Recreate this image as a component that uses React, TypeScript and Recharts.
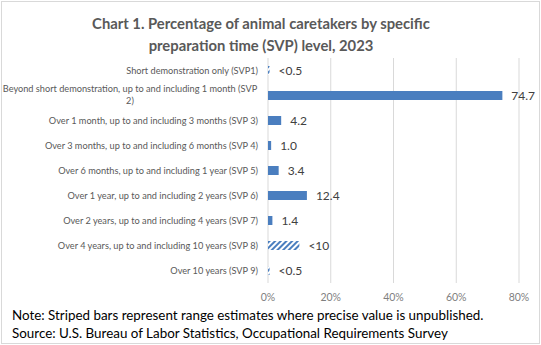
import React from "react";
import { BarChart, Bar, XAxis, YAxis, CartesianGrid, Cell, LabelList } from "recharts";

const categories = [
  "Short demonstration only (SVP1)",
  "Beyond short demonstration, up to and including 1 month (SVP 2)",
  "Over 1 month, up to and including 3 months (SVP 3)",
  "Over 3 months, up to and including 6 months (SVP 4)",
  "Over 6 months, up to and including 1 year (SVP 5)",
  "Over 1 year, up to and including 2 years (SVP 6)",
  "Over 2 years, up to and including 4 years (SVP 7)",
  "Over 4 years, up to and including 10 years (SVP 8)",
  "Over 10 years (SVP 9)",
];
const values = [0.5, 74.7, 4.2, 1.0, 3.4, 12.4, 1.4, 10, 0.5];
const valueLabels = ["<0.5", "74.7", "4.2", "1.0", "3.4", "12.4", "1.4", "<10", "<0.5"];
const striped = [true, false, false, false, false, false, false, true, true];
const xTicks = [0, 20, 40, 60, 80];

const data = categories.map((name, i) => ({
  name,
  value: values[i],
  label: valueLabels[i],
  striped: striped[i],
}));

const FONT = "Lato, 'Liberation Sans', sans-serif";
const BLUE = "#4a7ebf";

function CategoryTick(props: any) {
  const { x, y, payload } = props;
  const text: string = payload.value;
  const maxChars = 60;
  if (text.length <= maxChars) {
    return (
      <text x={x - 4} y={y} dy="0.35em" textAnchor="end" fill="#595959" fontSize={9.2} fontFamily={FONT}>
        {text}
      </text>
    );
  }
  const cut = text.lastIndexOf(" ", maxChars);
  const lines = [text.slice(0, cut), text.slice(cut + 1)];
  return (
    <g>
      {lines.map((l, i) => (
        <text key={i} x={130} y={y - 7 + i * 12} dy="0.35em" textAnchor="middle" fill="#595959" fontSize={9.2} fontFamily={FONT}>
          {l}
        </text>
      ))}
    </g>
  );
}

export default function App() {
  return (
    <div style={{ position: "fixed", left: 0, top: 0, width: 541, height: 345, background: "#fff" }}>
      <div
        style={{
          position: "absolute",
          left: 1,
          top: 1,
          width: 537,
          height: 341,
          border: "1px solid #d9d9d9",
        }}
      />
      <div
        style={{
          position: "absolute",
          left: 0,
          top: 12,
          width: 522,
          textAlign: "center",
          fontFamily: FONT,
          fontWeight: "bold",
          fontSize: 14.8,
          lineHeight: "22px",
          color: "#595959",
        }}
      >
        Chart 1. Percentage of animal caretakers by specific
        <br />
        preparation time (SVP) level, 2023
      </div>
      <div style={{ position: "absolute", left: 0, top: 0 }}>
        <BarChart
          width={541}
          height={345}
          data={data}
          layout="vertical"
          margin={{ top: 58, right: 22, bottom: 42, left: 10 }}
          barSize={9}
        >
          <defs>
            <pattern id="stripes" width="4" height="4" patternUnits="userSpaceOnUse" patternTransform="rotate(45)">
              <rect width="4" height="4" fill="#fff" />
              <rect width="2" height="4" fill={BLUE} />
            </pattern>
          </defs>
          <CartesianGrid horizontal={false} stroke="#d9d9d9" />
          <XAxis
            type="number"
            domain={[0, 80]}
            ticks={xTicks}
            tickFormatter={(v) => `${v}%`}
            axisLine={false}
            tickLine={false}
            tickMargin={5}
            height={20}
            tick={{ fill: "#7f7f7f", fontSize: 10.5, fontFamily: FONT }}
          />
          <YAxis
            type="category"
            dataKey="name"
            width={258}
            axisLine={false}
            tickLine={false}
            tickMargin={0}
            tick={<CategoryTick />}
            interval={0}
          />
          <Bar dataKey="value" isAnimationActive={false}>
            {data.map((d, i) => (
              <Cell key={i} fill={d.striped ? "url(#stripes)" : BLUE} />
            ))}
            <LabelList dataKey="label" position="right" offset={9} fill="#404040" fontSize={12} fontFamily={FONT} />
          </Bar>
        </BarChart>
      </div>
      <div
        style={{
          position: "absolute",
          left: 12,
          top: 306,
          fontFamily: FONT,
          fontSize: 13.4,
          lineHeight: "18px",
          color: "#000",
          whiteSpace: "nowrap",
        }}
      >
        Note: Striped bars represent range estimates where precise value is unpublished.
        <br />
        Source: U.S. Bureau of Labor Statistics, Occupational Requirements Survey
      </div>
    </div>
  );
}
